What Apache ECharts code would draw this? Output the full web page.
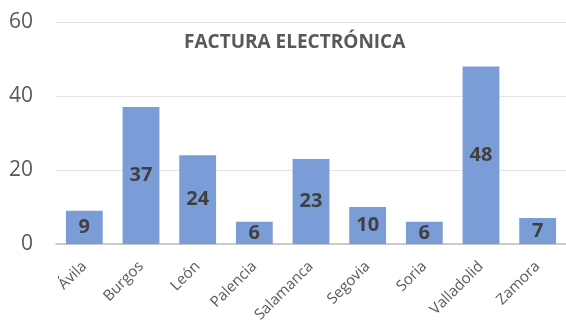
<!DOCTYPE html>
<html>
<head>
<meta charset="utf-8">
<script src="https://cdn.jsdelivr.net/npm/echarts@6/dist/echarts.min.js"></script>
<style>
  html, body { margin: 0; padding: 0; background: #fff; }
  #chart { width: 566px; height: 327px; }
</style>
</head>
<body>
<div id="chart"></div>
<script>
// Facturas electrónicas por provincia
const provincias = ['Ávila', 'Burgos', 'León', 'Palencia', 'Salamanca', 'Segovia', 'Soria', 'Valladolid', 'Zamora'];
const facturas = [9, 37, 24, 6, 23, 10, 6, 48, 7];
const titulo = 'FACTURA ELECTRÓNICA';

const font = '"Open Sans", "Noto Sans", sans-serif';
const chart = echarts.init(document.getElementById('chart'), null, { renderer: 'canvas' });

chart.setOption({
  animation: false,
  title: {
    text: titulo,
    left: 179,
    top: 28,
    textStyle: { fontFamily: font, fontSize: 19, fontWeight: 'bold', color: '#595959' }
  },
  grid: { left: 56, top: 22, width: 513, height: 222, containLabel: false },
  xAxis: {
    type: 'category',
    data: provincias,
    axisLine: { lineStyle: { color: '#bfbfbf', width: 1.5 } },
    axisTick: { show: false },
    axisLabel: { rotate: 45, fontFamily: font, fontSize: 15, color: '#595959', margin: 20, interval: 0 }
  },
  yAxis: {
    type: 'value',
    min: 0,
    max: 60,
    interval: 20,
    axisLine: { show: false },
    axisTick: { show: false },
    splitLine: { lineStyle: { color: '#e3e3e3', width: 1 } },
    axisLabel: { fontFamily: font, fontSize: 21, color: '#595959', margin: 23 }
  },
  series: [{
    type: 'bar',
    data: facturas,
    barWidth: '65%',
    itemStyle: { color: '#7b9dd7' },
    label: {
      show: true,
      position: 'inside',
      fontFamily: font,
      fontSize: 20,
      fontWeight: 'bold',
      color: '#404040'
    }
  }]
});
</script>
</body>
</html>
